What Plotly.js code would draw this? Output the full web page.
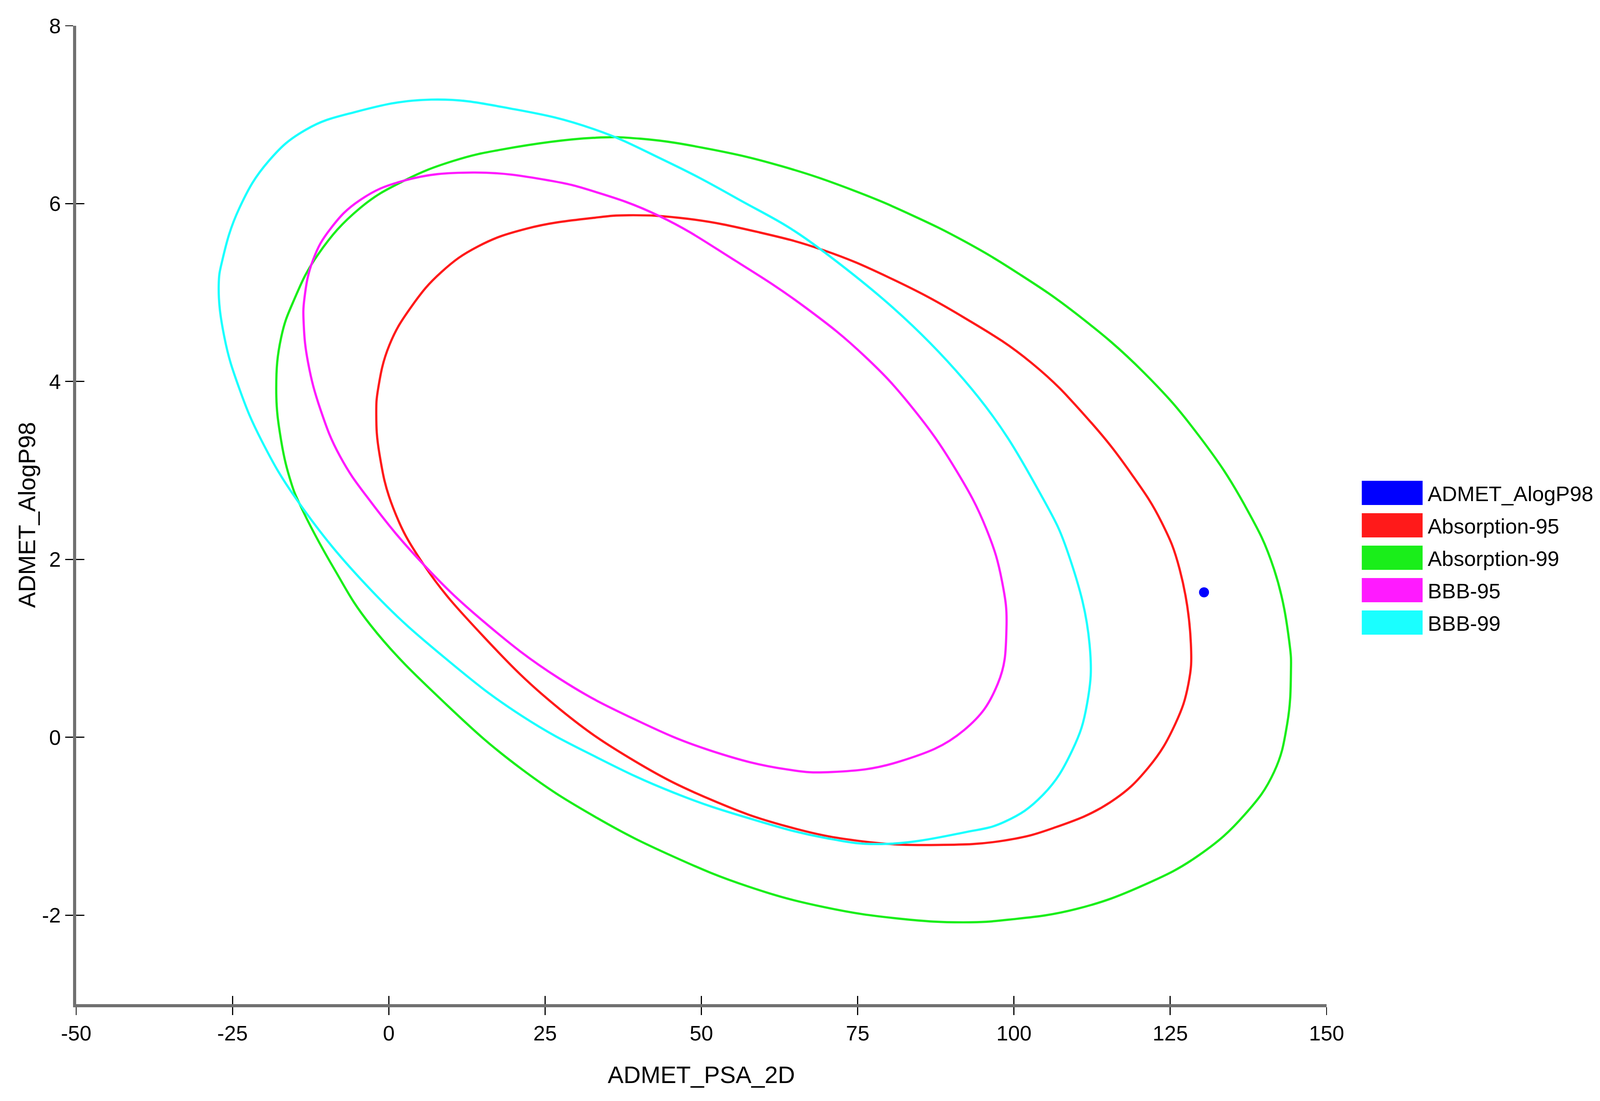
<!DOCTYPE html>
<html>
<head>
<meta charset="utf-8">
<script src="https://cdn.plot.ly/plotly-3.0.1.min.js"></script>
<style>
html, body { margin: 0; padding: 0; background: #fff; overflow: hidden; }
#plot { width: 100vw; height: 100vh; }
</style>
</head>
<body>
<div id="plot"></div>
<script>
// ADMET plot: PSA_2D vs AlogP98, 95/99 % ellipses
var seriesNames = ['ADMET_AlogP98', 'Absorption-95', 'Absorption-99', 'BBB-95', 'BBB-99'];

var compoundPsa = [130.4];
var compoundAlogp = [1.63];

var abs95Psa   = [38.4, 47.8, 59.1, 69.4, 80.0, 92.0, 102.8, 111.7, 118.9, 123.6, 126.5, 128.3, 127.9, 125.8, 121.5, 115.4, 106.3, 98.5, 87.9, 75.8, 63.6, 51.5, 39.4, 27.3, 15.2, 5.6, 0.7, -1.5, -2.0, -1.7, 0.1, 3.7, 8.4, 14.3, 22.1, 32.7, 38.4];
var abs95Alogp = [5.87, 5.83, 5.68, 5.48, 5.17, 4.72, 4.21, 3.59, 2.95, 2.42, 1.89, 1.05, 0.60, 0.15, -0.34, -0.73, -1.02, -1.16, -1.21, -1.17, -1.00, -0.70, -0.27, 0.32, 1.13, 1.94, 2.58, 3.19, 3.63, 3.92, 4.41, 4.85, 5.23, 5.52, 5.72, 5.84, 5.87];

var abs99Psa   = [32.7, 40.3, 51.6, 62.9, 74.3, 83.7, 92.0, 100.6, 110.0, 120.8, 129.7, 136.9, 141.6, 144.1, 144.3, 143.7, 141.6, 136.9, 129.7, 120.8, 110.0, 99.2, 92.0, 81.8, 69.7, 57.6, 45.5, 33.4, 21.3, 9.2, -2.9, -8.7, -14.3, -15.6, -17.2, -18.0, -17.2, -15.2, -11.3, -4.6, 2.5, 10.3, 18.2, 32.7];
var abs99Alogp = [6.74, 6.73, 6.61, 6.42, 6.15, 5.87, 5.58, 5.22, 4.76, 4.10, 3.38, 2.61, 1.89, 1.04, 0.73, 0.15, -0.39, -0.87, -1.32, -1.66, -1.93, -2.05, -2.08, -2.04, -1.91, -1.68, -1.34, -0.91, -0.36, 0.37, 1.26, 1.89, 2.63, 2.86, 3.33, 3.92, 4.50, 4.91, 5.43, 5.95, 6.26, 6.48, 6.61, 6.74];

var bbb95Psa   = [13.5, 25.7, 32.7, 43.3, 55.4, 66.7, 76.2, 83.7, 90.6, 95.6, 98.1, 98.8, 97.4, 92.0, 81.8, 70.9, 63.6, 51.5, 39.4, 27.3, 15.2, 5.6, -2.9, -7.8, -10.9, -12.9, -13.6, -13.5, -12.1, -9.3, -4.6, 2.5, 13.5];
var bbb95Alogp = [6.35, 6.26, 6.14, 5.86, 5.36, 4.83, 4.28, 3.71, 3.02, 2.34, 1.75, 1.22, 0.60, 0.08, -0.27, -0.39, -0.36, -0.15, 0.20, 0.66, 1.30, 1.94, 2.65, 3.16, 3.68, 4.21, 4.64, 4.93, 5.37, 5.72, 6.04, 6.26, 6.35];

var bbb99Psa   = [6.8, 20.2, 32.7, 44.0, 55.4, 69.0, 92.0, 104.6, 108.9, 112.1, 111.7, 109.3, 104.6, 98.5, 92.0, 78.8, 69.7, 57.6, 45.5, 33.4, 21.3, 9.2, -2.9, -14.3, -20.3, -23.9, -26.3, -27.2, -26.6, -23.9, -19.2, -13.3, -5.4, 6.8];
var bbb99Alogp = [7.17, 7.06, 6.84, 6.49, 6.07, 5.49, 4.02, 2.69, 2.02, 1.04, 0.38, -0.15, -0.65, -0.95, -1.07, -1.20, -1.13, -0.91, -0.62, -0.23, 0.24, 0.88, 1.66, 2.63, 3.33, 3.92, 4.50, 5.08, 5.37, 5.95, 6.48, 6.83, 7.03, 7.17];

var xTicks = [-50, -25, 0, 25, 50, 75, 100, 125, 150];
var xTickText = ['-50', '-25', '0', '25', '50', '75', '100', '125', '150'];
var yTicks = [-2, 0, 2, 4, 6, 8];
var yTickText = ['-2', '0', '2', '4', '6', '8'];

var colors = ['#0000ff', '#ff1a1a', '#1aee1a', '#ff1aff', '#1affff'];

// layout measured on a 4316 x 2819 canvas, scaled to the real window
var PW = window.innerWidth || 4316, PH = window.innerHeight || 2819;
var sx = PW / 4316, sy = PH / 2819, sf = Math.min(sx, sy);
var FONT = 'Liberation Sans, Arial, sans-serif';
var L = 206, T = 66, W = 3372, H = 2505;
function paperX(px) { return (px - L) / W; }
function paperY(py) { return 1 - (py - T) / H; }

function ring(x, y, i) {
    return {
        x: x, y: y, name: seriesNames[i],
        mode: 'lines',
        line: {color: colors[i], width: 6 * sf, shape: 'spline', smoothing: 1.2},
        hoverinfo: 'skip'
    };
}

var traces = [
    ring(abs95Psa, abs95Alogp, 1),
    ring(abs99Psa, abs99Alogp, 2),
    ring(bbb95Psa, bbb95Alogp, 3),
    ring(bbb99Psa, bbb99Alogp, 4),
    {
        x: compoundPsa, y: compoundAlogp, name: seriesNames[0],
        xaxis: 'x2', yaxis: 'y2',
        mode: 'markers',
        marker: {color: colors[0], size: 27 * sf}
    }
];

// hand-made legend with wide colour boxes, as in the original
var shapes = [], annotations = [];
seriesNames.forEach(function (name, i) {
    var top = 1231 + 83 * i;
    shapes.push({
        type: 'rect', xref: 'paper', yref: 'paper',
        x0: paperX(3673), x1: paperX(3837),
        y0: paperY(top + 62), y1: paperY(top),
        fillcolor: colors[i], line: {width: 0}
    });
    annotations.push({
        xref: 'paper', yref: 'paper',
        x: paperX(3849), y: paperY(top + 33),
        xanchor: 'left', yanchor: 'middle',
        text: name, showarrow: false,
        font: {family: FONT, size: 57 * sf, color: '#000'}
    });
});

var axisBase = {
    showgrid: false, zeroline: false,
    tickmode: 'array',
    ticklen: 22 * sf, tickwidth: 3 * sf, tickcolor: '#000'
};

var layout = {
    width: PW, height: PH,
    margin: {l: L * sx, r: (4316 - L - W) * sx, t: T * sy, b: (2819 - T - H) * sy},
    paper_bgcolor: '#fff', plot_bgcolor: '#fff',
    showlegend: false,
    font: {family: FONT, size: 57 * sf, color: '#000'},
    xaxis: Object.assign({}, axisBase, {
        range: [-50, 150], tickvals: xTicks, ticktext: xTickText,
        ticks: 'outside', showline: true, linecolor: '#707070', linewidth: 8 * sf,
        ticklabelstandoff: -7 * sf,
        title: {text: 'ADMET_PSA_2D', font: {family: FONT, size: 64 * sf}, standoff: 62 * sf}
    }),
    yaxis: Object.assign({}, axisBase, {
        range: [-3, 8], tickvals: yTicks, ticktext: yTickText,
        ticks: 'outside', showline: true, linecolor: '#707070', linewidth: 8 * sf,
        ticklabelstandoff: -4 * sf,
        title: {text: 'ADMET_AlogP98', font: {family: FONT, size: 64 * sf}, standoff: 0}
    }),
    xaxis2: Object.assign({}, axisBase, {
        range: [-50, 150], tickvals: xTicks,
        overlaying: 'x', anchor: 'y2', side: 'bottom',
        ticks: 'inside', showticklabels: false, showline: false
    }),
    yaxis2: Object.assign({}, axisBase, {
        range: [-3, 8], tickvals: yTicks,
        overlaying: 'y', anchor: 'x2', side: 'left',
        ticks: 'inside', showticklabels: false, showline: false
    }),
    shapes: shapes,
    annotations: annotations
};

Plotly.newPlot('plot', traces, layout, {staticPlot: true});
</script>
</body>
</html>
